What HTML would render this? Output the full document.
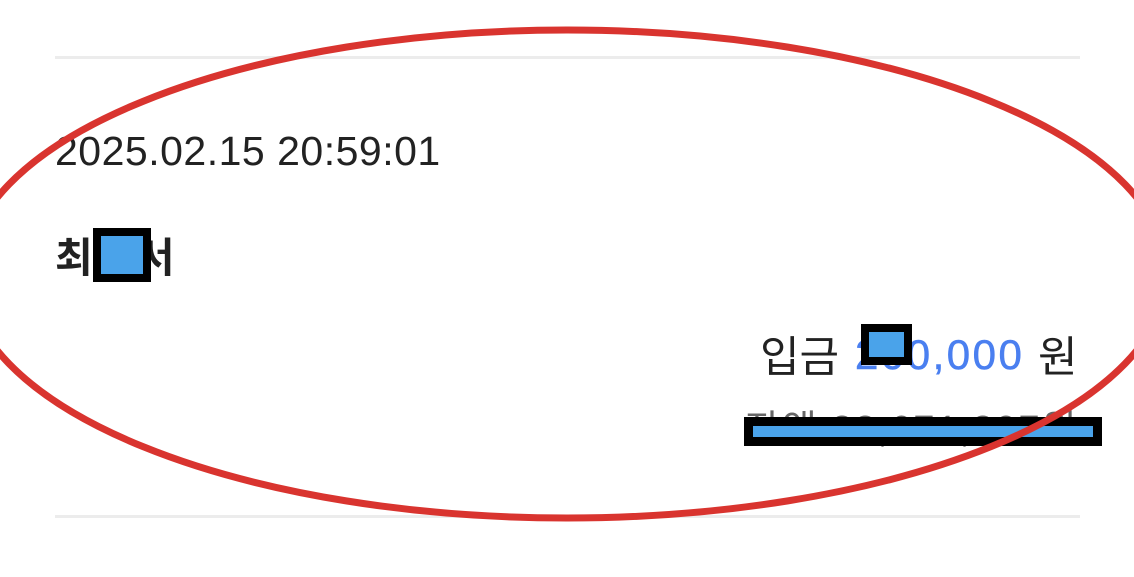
<!DOCTYPE html>
<html><head><meta charset="utf-8"><style>
body{margin:0;width:1134px;height:577px;background:#fff;position:relative;overflow:hidden;font-family:"Liberation Sans","Noto Sans CJK KR",sans-serif;color:#222}
.a{position:absolute;white-space:nowrap}
.line{position:absolute;left:55px;width:1025px;height:3px;background:#ececec}
</style></head><body>
<div class="line" style="top:56px"></div>
<div class="line" style="top:515px"></div>
<div class="a" style="left:55px;top:128px;font-size:41px;letter-spacing:0.5px">2025.02.15 20:59:01</div>
<div class="a" style="left:55px;top:224px;font-size:41px;font-weight:bold">최<span style="display:inline-block;width:44px"></span>서</div>
<div class="a" style="left:93px;top:228px;width:42px;height:38px;background:#4aa3ea;border:8px solid #000;box-sizing:content-box"></div>
<div class="a" style="left:760px;top:323px;font-size:43px">입금</div>
<div class="a" style="left:855px;top:331px;font-size:42px;color:#4a7ff0;letter-spacing:2.5px;-webkit-text-stroke:0.6px #4a7ff0">200,000</div>
<div class="a" style="left:1038px;top:323px;font-size:43px">원</div>
<div class="a" style="left:861px;top:324px;width:35px;height:25px;background:#4aa3ea;border:8px solid #000"></div>
<div class="a" style="left:745px;top:398px;font-size:38px;color:#666;letter-spacing:2px">잔액 33,671,807원</div>
<div class="a" style="left:744px;top:417px;width:340px;height:11px;background:#4aa3ea;border:9px solid #000"></div>
<svg class="a" style="left:0;top:0" width="1134" height="577"><ellipse cx="567" cy="274" rx="600" ry="244" fill="none" stroke="#d9342f" stroke-width="7"/></svg>
</body></html>
